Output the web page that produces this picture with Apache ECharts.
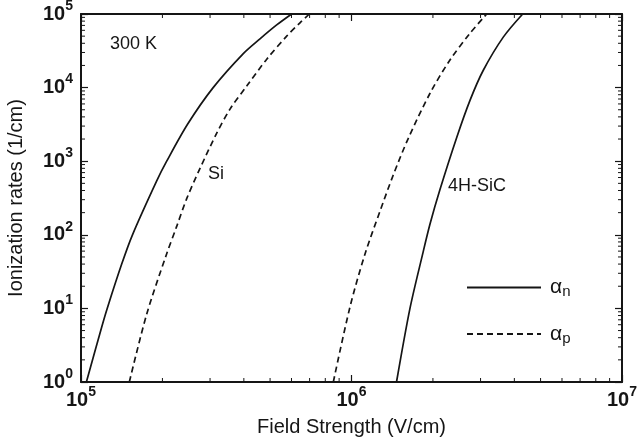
<!DOCTYPE html>
<html>
<head>
<meta charset="utf-8">
<script src="https://cdn.jsdelivr.net/npm/echarts@6/dist/echarts.min.js"></script>
<style>
  html, body { margin: 0; padding: 0; background: #fff; }
  #chart { width: 637px; height: 444px; }
</style>
</head>
<body>
<div id="chart"></div>
<script>
const FONT = '"Liberation Sans", Arial, Helvetica, sans-serif';
const INK = '#151515';

// Impact ionization rates at 300 K: field strength (V/cm) vs rate (1/cm)
const siFieldN   = [1.047e5, 1.193e5, 1.25e5, 1.414e5, 1.55e5, 1.905e5, 2.074e5, 2.48e5, 3.08e5, 3.981e5, 4.589e5, 5.29e5, 6.01e5];
const siAlphaN   = [1, 5.6, 10, 40, 100, 540, 1000, 3200, 10000, 29000, 46000, 71000, 100000];

const siFieldP   = [1.509e5, 1.75e5, 2.062e5, 2.258e5, 2.459e5, 2.754e5, 3.175e5, 3.555e5, 4.098e5, 4.86e5, 5.76e5, 6.45e5, 6.982e5];
const siAlphaP   = [1, 8.4, 52, 130, 310, 800, 2400, 5100, 10500, 24300, 50000, 76000, 100000];

const sicFieldP  = [8.566e5, 9.874e5, 1.122e6, 1.275e6, 1.427e6, 1.622e6, 1.951e6, 2.312e6, 2.742e6, 3.161e6];
const sicAlphaP  = [1, 10.5, 55, 210, 650, 2048, 8375, 23710, 54700, 100000];

const sicFieldN  = [1.467e6, 1.645e6, 1.833e6, 1.951e6, 2.125e6, 2.449e6, 2.742e6, 3.071e6, 3.64e6, 4.295e6];
const sicAlphaN  = [1, 10, 55, 140, 415, 2100, 6700, 17200, 48500, 100000];

// Axis ranges and decade tick exponents
const xRange = [1e5, 1e7];
const yRange = [1, 1e5];
const xTickExponents = [5, 6, 7];
const yTickExponents = [0, 1, 2, 3, 4, 5];

// Minor (2..9 x decade) tick positions
const minorMultipliers = [2, 3, 4, 5, 6, 7, 8, 9];
const xDecadeStarts = [1e5, 1e6];
const yDecadeStarts = [1, 10, 100, 1000, 10000];

const pairs = (xs, ys) => xs.map((x, i) => [x, ys[i]]);
const minorX = xDecadeStarts.flatMap(d => minorMultipliers.map(m => [d * m, yRange[0]]));
const minorY = yDecadeStarts.flatMap(d => minorMultipliers.map(m => [xRange[0], d * m]));

const powLabel = v => '{a|10}{b|' + Math.round(Math.log10(v)) + '}';
const powRich = {
  a: { fontFamily: FONT, fontSize: 20, fontWeight: 'bold', color: INK, lineHeight: 30 },
  b: { fontFamily: FONT, fontSize: 14, fontWeight: 'bold', color: INK, lineHeight: 14, verticalAlign: 'top' }
};

const axisLine = { show: true, onZero: false, lineStyle: { color: INK, width: 2 } };
const majorTick = { show: true, inside: true, length: 7, lineStyle: { color: INK, width: 1.2 } };

const curve = (name, data, dashed) => ({
  type: 'line',
  name: name,
  data: data,
  symbol: 'none',
  smooth: 0.3,
  xAxisIndex: 0,
  yAxisIndex: 0,
  silent: true,
  lineStyle: { color: INK, width: 1.7, type: dashed ? [6, 4] : 'solid' },
  itemStyle: { color: INK, opacity: 0 }
});

const chart = echarts.init(document.getElementById('chart'), null, { renderer: 'canvas' });

chart.setOption({
  animation: false,
  backgroundColor: '#fff',
  textStyle: { fontFamily: FONT },
  grid: { left: 81, right: 15, top: 14, bottom: 62, containLabel: false, outerBoundsMode: 'none' },
  xAxis: [
    {
      type: 'log', logBase: 10, min: xRange[0], max: xRange[1], position: 'bottom',
      name: 'Field Strength (V/cm)', nameLocation: 'middle', nameGap: 35,
      nameTextStyle: { fontFamily: FONT, fontSize: 20, color: INK },
      axisLine: axisLine, axisTick: majorTick,
      axisLabel: {
        margin: 3, formatter: powLabel, rich: powRich, showMinLabel: true, showMaxLabel: true,
        customValues: xTickExponents.map(e => Math.pow(10, e))
      },
      splitLine: { show: false }
    },
    {
      type: 'log', logBase: 10, min: xRange[0], max: xRange[1], position: 'top',
      axisLine: axisLine, axisTick: majorTick, axisLabel: { show: false }, splitLine: { show: false }
    }
  ],
  yAxis: [
    {
      type: 'log', logBase: 10, min: yRange[0], max: yRange[1], position: 'left',
      name: 'Ionization rates (1/cm)', nameLocation: 'middle', nameGap: 55,
      nameTextStyle: { fontFamily: FONT, fontSize: 20, color: INK },
      axisLine: axisLine, axisTick: majorTick,
      axisLabel: {
        margin: 8, formatter: powLabel, rich: powRich, showMinLabel: true, showMaxLabel: true,
        customValues: yTickExponents.map(e => Math.pow(10, e))
      },
      splitLine: { show: false }
    },
    {
      type: 'log', logBase: 10, min: yRange[0], max: yRange[1], position: 'right',
      axisLine: axisLine, axisTick: majorTick, axisLabel: { show: false }, splitLine: { show: false }
    }
  ],
  legend: {
    data: ['αn', 'αp'],
    orient: 'vertical',
    left: 461,
    top: 272,
    itemWidth: 74,
    itemHeight: 14,
    itemGap: 24,
    selectedMode: false,
    itemStyle: { opacity: 0 },
    formatter: n => '{a|α}{s|' + n.slice(1) + '}',
    textStyle: {
      padding: [0, 0, 0, 4],
      rich: {
        a: { fontFamily: FONT, fontSize: 21, color: INK, lineHeight: 24 },
        s: { fontFamily: FONT, fontSize: 15, color: INK, lineHeight: 15, verticalAlign: 'bottom' }
      }
    }
  },
  graphic: [
    { type: 'text', left: 110, top: 35, style: { text: '300 K', font: '18px ' + FONT, fill: INK } },
    { type: 'text', left: 208, top: 165, style: { text: 'Si', font: '18px ' + FONT, fill: INK } },
    { type: 'text', left: 448, top: 177, style: { text: '4H-SiC', font: '18px ' + FONT, fill: INK } }
  ],
  series: [
    curve('αn', pairs(siFieldN, siAlphaN), false),
    curve('αp', pairs(siFieldP, siAlphaP), true),
    curve('αp', pairs(sicFieldP, sicAlphaP), true),
    curve('αn', pairs(sicFieldN, sicAlphaN), false),
    {
      // minor ticks along bottom and top frame edges
      type: 'custom', silent: true, xAxisIndex: 0, yAxisIndex: 0, data: minorX,
      renderItem: (params, api) => {
        const lo = api.coord([api.value(0), yRange[0]]);
        const hi = api.coord([api.value(0), yRange[1]]);
        const st = { stroke: INK, lineWidth: 1 };
        return { type: 'group', children: [
          { type: 'line', shape: { x1: lo[0], y1: lo[1], x2: lo[0], y2: lo[1] - 4 }, style: st },
          { type: 'line', shape: { x1: hi[0], y1: hi[1], x2: hi[0], y2: hi[1] + 4 }, style: st }
        ]};
      }
    },
    {
      // minor ticks along left and right frame edges
      type: 'custom', silent: true, xAxisIndex: 0, yAxisIndex: 0, data: minorY,
      renderItem: (params, api) => {
        const lo = api.coord([xRange[0], api.value(1)]);
        const hi = api.coord([xRange[1], api.value(1)]);
        const st = { stroke: INK, lineWidth: 1 };
        return { type: 'group', children: [
          { type: 'line', shape: { x1: lo[0], y1: lo[1], x2: lo[0] + 4, y2: lo[1] }, style: st },
          { type: 'line', shape: { x1: hi[0], y1: hi[1], x2: hi[0] - 4, y2: hi[1] }, style: st }
        ]};
      }
    }
  ]
});
</script>
</body>
</html>
